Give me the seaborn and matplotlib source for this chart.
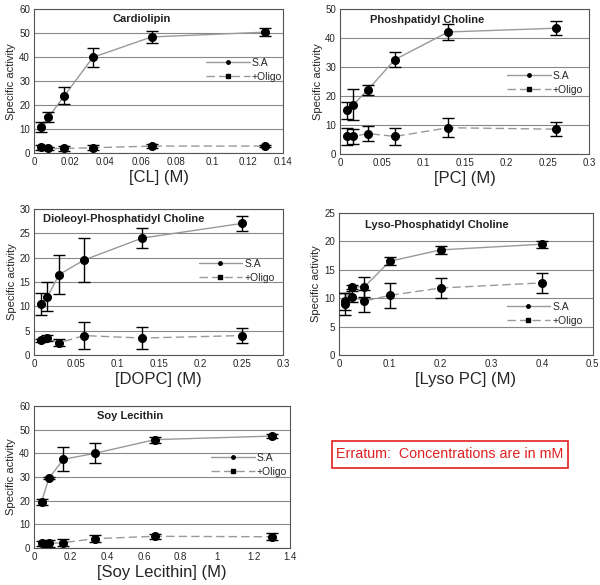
import numpy as np
import pandas as pd
import seaborn as sns
import matplotlib.pyplot as plt
from matplotlib.lines import Line2D
from matplotlib.patches import Rectangle

# Cardiolipin
cl_x = [0.004, 0.008, 0.017, 0.033, 0.066, 0.13]
cl_sa = [11, 15, 24, 40, 48.5, 50.5]
cl_sa_err = [2, 2, 3.5, 4, 2.5, 1.8]
cl_ol = [2.5, 2, 2, 2.3, 3, 3]
cl_ol_err = [1, 0.5, 1, 1, 1, 0.5]

# Phosphatidyl choline
pc_x = [0.008, 0.016, 0.033, 0.066, 0.13, 0.26]
pc_sa = [15, 17, 22, 32.5, 42, 43.3]
pc_sa_err = [3, 5.5, 1.8, 2.5, 2.8, 2.5]
pc_ol = [6, 6, 7, 6, 9, 8.5]
pc_ol_err = [3, 2.5, 2.5, 3, 3.3, 2.5]

# DOPC
dopc_x = [0.008, 0.016, 0.03, 0.06, 0.13, 0.25]
dopc_sa = [10.5, 12, 16.5, 19.5, 24, 27]
dopc_sa_err = [2.2, 3, 4, 4.5, 2, 1.5]
dopc_ol = [3, 3.5, 2.5, 4, 3.5, 4]
dopc_ol_err = [0.3, 0.7, 0.7, 2.8, 2.2, 1.5]

# Lyso PC
lyso_x = [0.0125, 0.025, 0.05, 0.1, 0.2, 0.4]
lyso_sa = [9.5, 12, 12, 16.5, 18.5, 19.5]
lyso_sa_err = [1.5, 0.4, 1.7, 0.7, 0.7, 0.6]
lyso_ol = [9, 10.3, 9.5, 10.5, 11.8, 12.7]
lyso_ol_err = [2, 1, 2, 2.2, 1.7, 1.8]

# Soy lecithin
soy_x = [0.04, 0.08, 0.16, 0.33, 0.66, 1.3]
soy_sa = [19.5, 29.5, 37.5, 40, 45.8, 47.3]
soy_sa_err = [1.2, 0.5, 5, 4.2, 1.3, 0.8]
soy_ol = [2, 2, 2.3, 4, 5, 4.8]
soy_ol_err = [1, 1.5, 1.5, 1.5, 1, 1.5]

sns.set_style('white')
plt.rcParams['font.family'] = ['Liberation Sans', 'DejaVu Sans']

fig = plt.figure(figsize=(6, 5.85), dpi=100)

panels = [
    # x, sa, sa_err, ol, ol_err, title, xlabel, xlim, xstep, ylim, ystep, rect, title pos, legend pos
    (cl_x, cl_sa, cl_sa_err, cl_ol, cl_ol_err, 'Cardiolipin', '[CL] (M)',
     0.14, 0.02, 60, 10, [0.057, 0.738, 0.415, 0.246], (0.43, 0.93), (0.69, 0.58)),
    (pc_x, pc_sa, pc_sa_err, pc_ol, pc_ol_err, 'Phoshpatidyl Choline', '[PC] (M)',
     0.3, 0.05, 50, 10, [0.567, 0.737, 0.415, 0.248], (0.35, 0.92), (0.67, 0.49)),
    (dopc_x, dopc_sa, dopc_sa_err, dopc_ol, dopc_ol_err, 'Dioleoyl-Phosphatidyl Choline', '[DOPC] (M)',
     0.3, 0.05, 30, 5, [0.057, 0.393, 0.415, 0.250], (0.36, 0.93), (0.66, 0.575)),
    (lyso_x, lyso_sa, lyso_sa_err, lyso_ol, lyso_ol_err, 'Lyso-Phosphatidyl Choline', '[Lyso PC] (M)',
     0.5, 0.1, 25, 5, [0.565, 0.393, 0.423, 0.243], (0.385, 0.915), (0.66, 0.29)),
    (soy_x, soy_sa, soy_sa_err, soy_ol, soy_ol_err, 'Soy Lecithin', '[Soy Lecithin] (M)',
     1.4, 0.2, 60, 10, [0.057, 0.063, 0.427, 0.243], (0.375, 0.93), (0.69, 0.585)),
]

for x, sa, sa_err, ol, ol_err, title, xlabel, xmax, xstep, ymax, ystep, rect, tpos, lpos in panels:
    ax = fig.add_axes(rect)
    df = pd.DataFrame({'x': x + x, 'y': sa + ol,
                       'series': ['S.A'] * len(x) + ['+Oligo'] * len(x)})
    sns.lineplot(data=df, x='x', y='y', style='series', ax=ax, color='#999999',
                 lw=1.0, dashes={'S.A': '', '+Oligo': (6, 3)}, legend=False, zorder=2)
    ax.errorbar(x, sa, yerr=sa_err, fmt='o', color='black', ms=5.5, capsize=4,
                elinewidth=1.0, capthick=1.0, zorder=3)
    ax.errorbar(x, ol, yerr=ol_err, fmt='o', color='black', ms=5.5, capsize=4,
                elinewidth=1.0, capthick=1.0, zorder=3)
    ax.set_xlim(0, xmax)
    ax.set_ylim(0, ymax)
    ax.set_xticks(np.round(np.arange(0, xmax + xstep / 2, xstep), 3))
    ax.set_yticks(np.arange(0, ymax + 1, ystep))
    ax.xaxis.set_major_formatter(plt.FuncFormatter(lambda v, p: f'{v:g}'))
    ax.yaxis.grid(True, color='#888888', lw=0.8)
    ax.tick_params(labelsize=7, length=2, pad=1, direction='out', color='#555555')
    for s in ax.spines.values():
        s.set_color('#555555')
        s.set_linewidth(0.8)
    ax.set_xlabel(xlabel, fontsize=12, labelpad=2)
    ax.set_ylabel('Specific activity', fontsize=8, labelpad=2)
    ax.text(tpos[0], tpos[1], title, transform=ax.transAxes, ha='center', va='center',
            fontsize=8, fontweight='bold', color='#222222')
    handles = [Line2D([], [], color='#999999', lw=1.0, marker='o', ms=2.5,
                      mfc='black', mec='black'),
               Line2D([], [], color='#999999', lw=1.0, ls=(0, (6, 3)), marker='s', ms=3,
                      mfc='black', mec='black')]
    ax.legend(handles, ['S.A', '+Oligo'], loc='center left', bbox_to_anchor=lpos,
              frameon=False, fontsize=7.5, handlelength=4.2, labelspacing=0.4,
              handletextpad=0.2, borderpad=0, borderaxespad=0)

box_x0, box_y0, box_w, box_h = 332 / 600, 1 - 468 / 585, 236 / 600, 27 / 585
fig.text(box_x0 + box_w / 2, box_y0 + box_h / 2, 'Erratum:  Concentrations are in mM',
         color='#e02020', fontsize=10.3, ha='center', va='center')
fig.patches.append(Rectangle((box_x0, box_y0), box_w, box_h,
                             transform=fig.transFigure, fill=False,
                             edgecolor='#e02020', lw=1.2))

fig.savefig('out.png', dpi=100)
